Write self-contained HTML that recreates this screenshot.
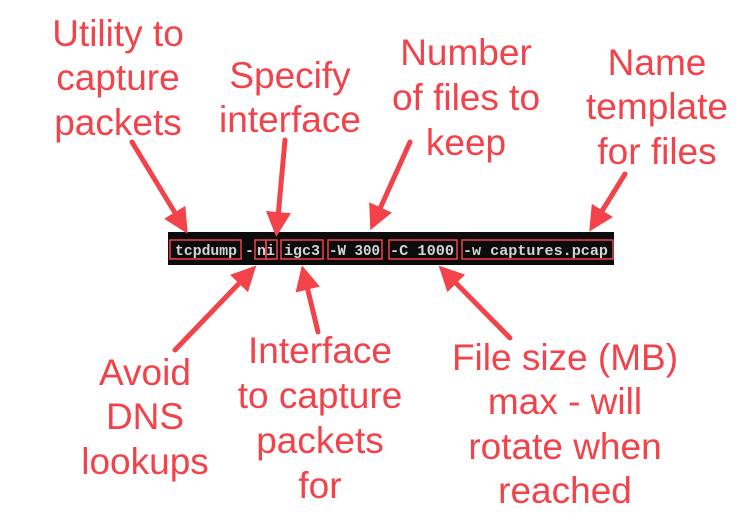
<!DOCTYPE html>
<html><head><style>
html,body{margin:0;padding:0;background:#fff;}
svg{display:block;}
.l{font-family:"Liberation Sans",Arial,sans-serif;font-size:37px;fill:#f2424a;text-anchor:middle;}
.t{font-family:"Liberation Mono","DejaVu Sans Mono",monospace;font-size:15px;fill:#d4d4d4;font-weight:bold;}
</style></head><body>
<svg width="744" height="524" viewBox="0 0 744 524" xmlns="http://www.w3.org/2000/svg">
<defs>
<marker id="a" markerWidth="5" markerHeight="5" refX="3.2" refY="2.5" orient="auto" markerUnits="strokeWidth">
<path d="M0,0 L5,2.5 L0,5 z" fill="#f2424a"/></marker>
</defs>
<rect x="168" y="232" width="446" height="33" fill="#0c0c0c"/>
<g class="t">
<text x="175" y="255" textLength="62" lengthAdjust="spacingAndGlyphs">tcpdump</text>
<text x="245" y="255">-</text>
<text x="257" y="255" textLength="18" lengthAdjust="spacingAndGlyphs">ni</text>
<text x="284" y="255" textLength="36" lengthAdjust="spacingAndGlyphs">igc3</text>
<text x="329" y="255" textLength="51" lengthAdjust="spacingAndGlyphs">-W 300</text>
<text x="390" y="255" textLength="64" lengthAdjust="spacingAndGlyphs">-C 1000</text>
<text x="463" y="255" textLength="145" lengthAdjust="spacingAndGlyphs">-w captures.pcap</text>
</g>
<g fill="none" stroke="#f2424a" stroke-width="1.5">
<rect x="170" y="240" width="71" height="19"/>
<rect x="255" y="240" width="11" height="19"/>
<rect x="266" y="240" width="11" height="19"/>
<rect x="281" y="240" width="42" height="19"/>
<rect x="328" y="240" width="54" height="19"/>
<rect x="389" y="240" width="68" height="19"/>
<rect x="462" y="240" width="151" height="19"/>
</g>
<g stroke="#f2424a" stroke-width="5" stroke-linecap="round" marker-end="url(#a)">
<line x1="132" y1="142" x2="183" y2="226"/>
<line x1="285" y1="140" x2="277" y2="228"/>
<line x1="410" y1="142" x2="374" y2="222"/>
<line x1="625" y1="174" x2="594" y2="224"/>
<line x1="175" y1="350" x2="250" y2="272"/>
<line x1="318" y1="332" x2="304" y2="274"/>
<line x1="510" y1="338" x2="445" y2="272"/>
</g>
<g class="l">
<text x="118" y="46">Utility to</text><text x="118" y="90">capture</text><text x="118" y="135">packets</text>
<text x="290" y="88">Specify</text><text x="290" y="132">interface</text>
<text x="466" y="65">Number</text><text x="466" y="110">of files to</text><text x="466" y="155">keep</text>
<text x="657" y="75">Name</text><text x="657" y="119">template</text><text x="657" y="164">for files</text>
<text x="145" y="385">Avoid</text><text x="145" y="429">DNS</text><text x="145" y="474">lookups</text>
<text x="320" y="363">Interface</text><text x="320" y="408">to capture</text><text x="320" y="453">packets</text><text x="320" y="498">for</text>
<text x="565" y="370">File size (MB)</text><text x="565" y="414">max - will</text><text x="565" y="459">rotate when</text><text x="565" y="503">reached</text>
</g>
</svg>
</body></html>
